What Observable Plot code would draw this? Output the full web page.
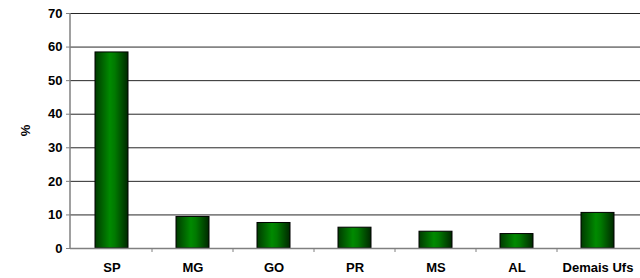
<!DOCTYPE html>
<html><head><meta charset="utf-8">
<script src="https://cdn.jsdelivr.net/npm/d3@7"></script>
<script src="https://cdn.jsdelivr.net/npm/@observablehq/plot@0.6"></script>
<style>
body{margin:0;background:#fff;}
#chart svg{display:block;}
</style>
</head><body><div id="chart"></div>
<script>
const categories = ["SP","MG","GO","PR","MS","AL","Demais Ufs"];
const values = [58.4, 9.4, 7.6, 6.2, 5.0, 4.3, 10.6];
const yTicks = [0,10,20,30,40,50,60,70];
const data = categories.map((c,i)=>({cat:c, v:values[i]}));

const defs = () => {
  const d = d3.create("svg:defs");
  const g = d.append("linearGradient").attr("id","barGrad").attr("x1","0").attr("x2","1").attr("y1","0").attr("y2","0");
  g.append("stop").attr("offset","0%").attr("stop-color","#003a00");
  g.append("stop").attr("offset","45%").attr("stop-color","#008a00");
  g.append("stop").attr("offset","60%").attr("stop-color","#007a00");
  g.append("stop").attr("offset","100%").attr("stop-color","#002800");
  return d.node();
};

const plot = Plot.plot({
  width: 640, height: 278,
  marginLeft: 70, marginRight: 0, marginTop: 13, marginBottom: 30,
  style: {fontFamily: "Liberation Sans, Arial, sans-serif", fontSize: "13px", fontWeight: "bold", color: "#000", background: "#fff"},
  x: {domain: categories, paddingInner: 0.59, paddingOuter: 0.295, label: null, tickSize: 0},
  y: {domain: [0,70], ticks: yTicks, label: null},
  marks: [
    defs,
    Plot.ruleY(yTicks.filter(t=>t>0), {stroke: "#000", strokeWidth: 1, strokeOpacity: 0.85}),
    Plot.barY(data, {x: "cat", y: "v", fill: "url(#barGrad)", stroke: "#000", strokeWidth: 1}),
    Plot.ruleY([0], {stroke: "#808080", strokeWidth: 1.5}),
    Plot.axisY({ticks: yTicks, tickSize: 4, tickPadding: 4, stroke: "#808080", label: null, fontSize: 13, fontWeight: "bold"}),
    Plot.axisX({tickSize: 0, tickPadding: 14, label: null, fontSize: 13, fontWeight: "bold"})
  ]
});

// vertical axis line and band-boundary ticks using the plot's own scales
const xs = plot.scale("x"), ys = plot.scale("y");
const svg = d3.select(plot);
const x0 = 70;
svg.append("line").attr("x1", x0).attr("x2", x0).attr("y1", ys.apply(70)).attr("y2", ys.apply(0)).attr("stroke", "#808080").attr("stroke-width", 1.5);
const bw = xs.bandwidth;
for (let i = 1; i < categories.length; i++) {
  const xa = xs.apply(categories[i-1]) + bw/2, xb = xs.apply(categories[i]) + bw/2;
  const xm = (xa + xb) / 2;
  svg.append("line").attr("x1", xm).attr("x2", xm).attr("y1", ys.apply(0)).attr("y2", ys.apply(0)+4).attr("stroke", "#808080");
}
svg.append("text").attr("transform", `translate(30,${(ys.apply(0)+ys.apply(70))/2}) rotate(-90)`)
  .attr("text-anchor","middle").attr("font-size", 13).attr("font-weight","bold").text("%");
document.getElementById("chart").appendChild(plot);
</script>
</body></html>
